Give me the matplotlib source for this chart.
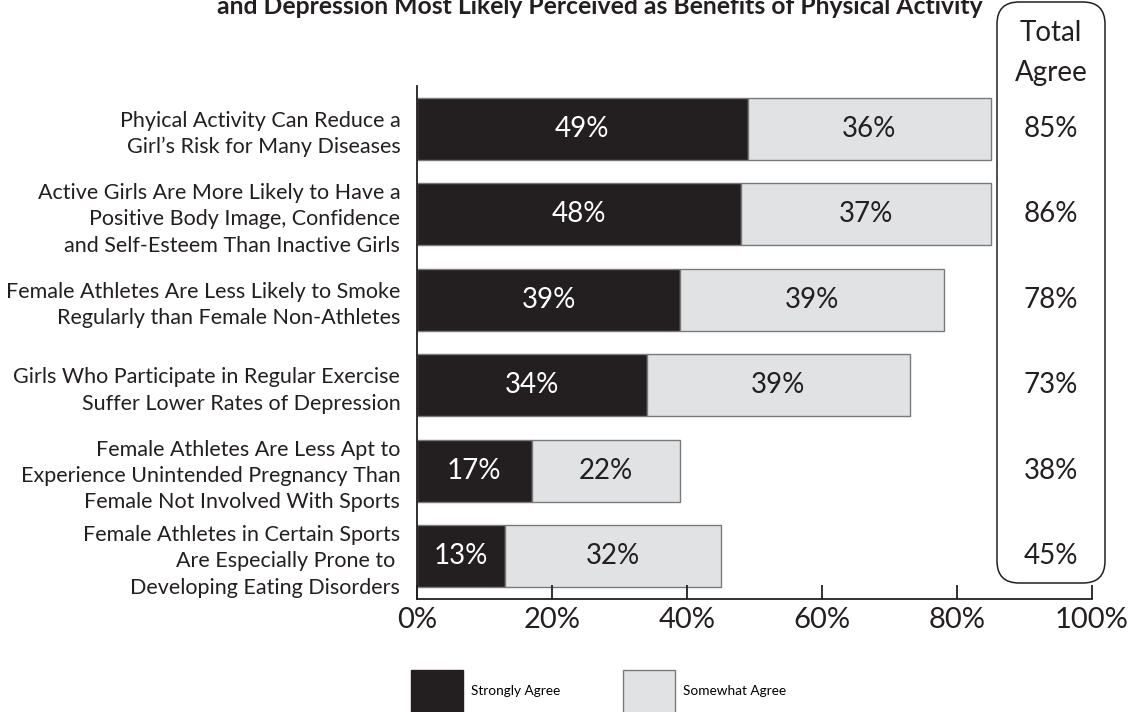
import matplotlib
matplotlib.use("Agg")
import matplotlib.pyplot as plt
from matplotlib.patches import FancyBboxPatch, Patch

plt.rcParams['font.family'] = ['Lato', 'DejaVu Sans']

# Survey results
statements = [
    "Phyical Activity Can Reduce a\nGirl\u2019s Risk for Many Diseases",
    "Active Girls Are More Likely to Have a\nPositive Body Image, Confidence\nand Self-Esteem Than Inactive Girls",
    "Female Athletes Are Less Likely to Smoke\nRegularly than Female Non-Athletes",
    "Girls Who Participate in Regular Exercise\nSuffer Lower Rates of Depression",
    "Female Athletes Are Less Apt to\nExperience Unintended Pregnancy Than\nFemale Not Involved With Sports",
    "Female Athletes in Certain Sports\nAre Especially Prone to \nDeveloping Eating Disorders",
]
strongly = [49, 48, 39, 34, 17, 13]
somewhat = [36, 37, 39, 39, 22, 32]
total_agree = [85, 86, 78, 73, 38, 45]
x_ticks = [0, 20, 40, 60, 80, 100]

dark = '#231f20'
light = '#e1e2e3'
edge = '#7a7a7a'

fig = plt.figure(figsize=(11.28, 7.12), dpi=100)
ax = fig.add_axes([0.3697, 0.1587, 0.5984, 0.7205])

ypos = list(range(len(statements)))
ax.barh(ypos, strongly, height=0.72, color=dark, edgecolor=edge, linewidth=1)
ax.barh(ypos, somewhat, left=strongly, height=0.72, color=light, edgecolor=edge, linewidth=1)

for y, s, w in zip(ypos, strongly, somewhat):
    ax.text(s / 2, y, f"{s}%", ha='center', va='center', color='white', fontsize=20)
    ax.text(s + w / 2, y, f"{w}%", ha='center', va='center', color=dark, fontsize=20)

ax.set_xlim(0, 100)
ax.set_ylim(5.5, -0.5)
ax.set_yticks(ypos)
ax.set_yticklabels(statements, fontsize=15.5, color=dark, linespacing=1.4)
ax.tick_params(axis='y', length=0, pad=12)
ax.set_xticks(x_ticks)
ax.set_xticklabels([f"{t}%" for t in x_ticks], fontsize=21, color=dark)
ax.tick_params(axis='x', direction='in', length=10, width=1.3, color=dark, pad=6)
for side in ['top', 'right']:
    ax.spines[side].set_visible(False)
for side in ['left', 'bottom']:
    ax.spines[side].set_color(dark)
    ax.spines[side].set_linewidth(1.3)

# Total agree column inside a rounded box
box = FancyBboxPatch((9.97, 1.29), 1.08, 5.81, boxstyle="round,pad=0,rounding_size=0.22",
                     transform=fig.dpi_scale_trans, facecolor='none', edgecolor=dark,
                     linewidth=1.1, clip_on=False)
fig.patches.append(box)
fig.text(10.51 / 11.28, 1 - 33 / 712, "Total", ha='center', va='center', fontsize=20, color=dark)
fig.text(10.51 / 11.28, 1 - 73 / 712, "Agree", ha='center', va='center', fontsize=20, color=dark)
for y, t in zip(ypos, total_agree):
    ax.text(93.9, y, f"{t}%", ha='center', va='center', fontsize=20, color=dark, clip_on=False)

fig.text(0.532, 1 - 14 / 712,
         "and Depression Most Likely Perceived as Benefits of Physical Activity",
         ha='center', va='baseline', fontsize=17.8, fontweight='bold', color=dark)

handles = [Patch(facecolor=dark, edgecolor=dark, label='Strongly Agree'),
           Patch(facecolor=light, edgecolor=edge, label='Somewhat Agree')]
fig.legend(handles=handles, loc='center left', bbox_to_anchor=(411 / 1128, 1 - 692 / 712),
           ncol=2, frameon=False, fontsize=9.8, handlelength=3.8, handleheight=4.6,
           handletextpad=0.6, columnspacing=4.65, borderpad=0, borderaxespad=0)

fig.savefig('out.png', dpi=100)
